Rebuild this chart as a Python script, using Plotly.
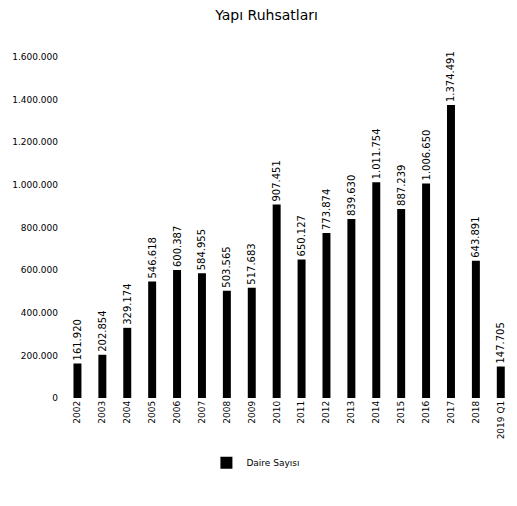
import plotly.graph_objects as go

years = ["2002", "2003", "2004", "2005", "2006", "2007", "2008", "2009", "2010",
         "2011", "2012", "2013", "2014", "2015", "2016", "2017", "2018", "2019 Q1"]
permits = [161920, 202854, 329174, 546618, 600387, 584955, 503565, 517683, 907451,
           650127, 773874, 839630, 1011754, 887239, 1006650, 1374491, 643891, 147705]
series_name = "Daire Sayısı"
title_text = "Yapı Ruhsatları"

FONT = "DejaVu Sans, sans-serif"

fig = go.Figure()
fig.add_trace(go.Bar(
    x=years, y=permits, name=series_name,
    marker=dict(color="black", line=dict(width=0)),
    text=permits, texttemplate="%{y:,d}", textposition="outside",
    textangle=-90, constraintext="none",
    textfont=dict(size=10, color="black", family=FONT),
    cliponaxis=False, width=0.32, showlegend=True,
))

fig.update_layout(
    width=501, height=490,
    margin=dict(l=57, r=0, t=49, b=100, autoexpand=False),
    paper_bgcolor="white", plot_bgcolor="white",
    separators=",.",
    font=dict(family=FONT, size=9, color="black"),
    title=dict(text=title_text, x=0.516, xanchor="center", yref="container",
               y=1 - 7 / 490, yanchor="middle", pad=dict(t=0, b=0),
               font=dict(size=14, family=FONT, color="black")),
    showlegend=True,
    legend=dict(orientation="h", x=0.43, xanchor="center", y=-0.19, yanchor="middle",
                font=dict(size=9, family=FONT)),
    xaxis=dict(type="category", range=[-0.5, 17.33], tickangle=-90, showgrid=False,
               showline=False, ticks="", automargin=False,
               tickfont=dict(size=9, family=FONT)),
    yaxis=dict(range=[0, 1600000], dtick=200000, tickformat=",d", showgrid=False,
               zeroline=False, showline=False, ticks="", automargin=False,
               ticklabelstandoff=6,
               tickfont=dict(size=9, family=FONT)),
)

fig.write_html("out.html")
